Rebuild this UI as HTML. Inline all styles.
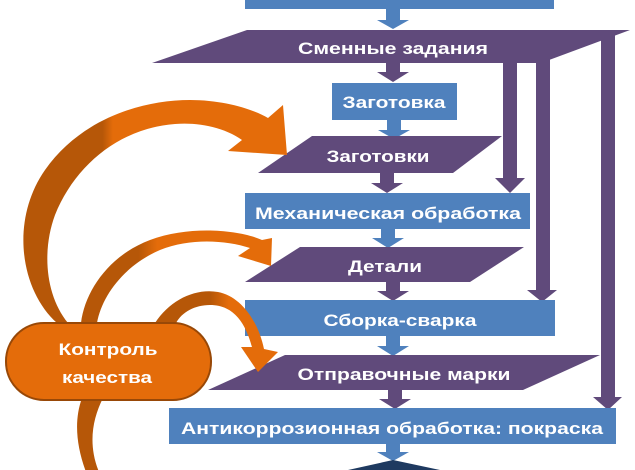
<!DOCTYPE html>
<html><head><meta charset="utf-8"><style>
html,body{margin:0;padding:0;background:#fff;width:635px;height:470px;overflow:hidden}
svg{display:block}
text{font-family:"Liberation Sans","DejaVu Sans",sans-serif;font-weight:bold;fill:#fff}
</style></head><body>
<svg width="635" height="470" viewBox="0 0 635 470" xmlns="http://www.w3.org/2000/svg">
<defs>
<linearGradient id="g1" x1="0" y1="0" x2="1" y2="0">
<stop offset="0" stop-color="#b65708"/><stop offset="0.3" stop-color="#b65708"/><stop offset="0.34" stop-color="#e46c0a"/><stop offset="1" stop-color="#e46c0a"/>
</linearGradient>
<linearGradient id="g2" x1="0" y1="0" x2="1" y2="0">
<stop offset="0" stop-color="#b65708"/><stop offset="0.3" stop-color="#b65708"/><stop offset="0.4" stop-color="#e46c0a"/><stop offset="1" stop-color="#e46c0a"/>
</linearGradient>
<linearGradient id="g3" x1="0" y1="0" x2="1" y2="0">
<stop offset="0" stop-color="#b65708"/><stop offset="0.45" stop-color="#b65708"/><stop offset="0.6" stop-color="#e46c0a"/><stop offset="1" stop-color="#e46c0a"/>
</linearGradient>
</defs>

<rect x="245" y="-2" width="309" height="11" fill="#4f81bd"/>
<g fill="#4f81bd">
<polygon points="386,9 400,9 400,20 409,20 393,29 377,20 386,20"/>
<polygon points="387,120 401,120 401,130 410,130 394,139 378,130 387,130"/>
<polygon points="381,229 395,229 395,238 404,238 388,248 372,238 381,238"/>
<polygon points="386,336 400,336 400,346 409,346 393,356 377,346 386,346"/>
<polygon points="386,444 400,444 400,452 409,452 393,461 377,452 386,452"/>
</g>
<g fill="#604a7b">
<polygon points="247,30 630,30 541,63 152,63"/>
<polygon points="312,136 502,136 453,173 258,173"/>
<polygon points="300,247 524,247 470,282 245,282"/>
<polygon points="285,355 600,355 523,390 208,390"/>
<polygon points="386,63 400,63 400,72 409,72 393,82 377,72 386,72"/>
<polygon points="380,173 394,173 394,183 403,183 387,193 371,183 380,183"/>
<polygon points="386,282 400,282 400,291 409,291 393,301 377,291 386,291"/>
<polygon points="388,390 402,390 402,399 411,399 395,409 379,399 388,399"/>
<polygon points="503,60 517,60 517,178 525,178 510,193 495,178 503,178"/>
<polygon points="536,55 550,55 550,290 557,290 542,302 527,290 536,290"/>
<polygon points="601,34 615,34 615,397 622,397 608,410 593,397 601,397"/>
</g>
<g fill="#4f81bd">
<rect x="332" y="83" width="125" height="37"/>
<rect x="245" y="193" width="285" height="36"/>
<rect x="245" y="300" width="310" height="36"/>
<rect x="169" y="408" width="447" height="36"/>
</g>
<polygon points="393,460 440,470 348,470" fill="#1f3a60"/>

<path d="M57,323 C20,290 10,220 45,170 C80,120 140,100 190,100 C225,100 255,110 268,118 L283,105 L287,155 L228,151 L242,140 C225,128 200,122 175,124 C120,128 75,165 55,215 C42,250 45,295 68,323 Z" fill="url(#g1)"/>
<path d="M81,323 C85,290 110,255 150,240 C190,225 240,230 262,240 L272,238 L271,266 L238,256 L250,248 C225,240 190,238 160,250 C125,265 102,295 97,323 Z" fill="url(#g2)"/>
<path d="M155,323 C170,300 195,288 218,292 C240,296 258,320 264,349 L278,352 L258,372 L241,347 L252,347 C246,325 235,305 210,305 C195,305 182,312 176,323 Z" fill="url(#g3)"/>
<path d="M82,398 L103,398 C92,420 88,445 99,472 L86,472 C76,445 74,420 82,398 Z" fill="#b65708"/>
<rect x="6" y="323" width="205" height="77" rx="38" ry="38" fill="#e46c0a" stroke="#984807" stroke-width="2"/>

<text x="393" y="54" font-size="17" text-anchor="middle" textLength="190" lengthAdjust="spacingAndGlyphs">Сменные задания</text>
<text x="394" y="108" font-size="17" text-anchor="middle" textLength="103" lengthAdjust="spacingAndGlyphs">Заготовка</text>
<text x="378" y="162" font-size="17" text-anchor="middle" textLength="103" lengthAdjust="spacingAndGlyphs">Заготовки</text>
<text x="388" y="219" font-size="17" text-anchor="middle" textLength="266" lengthAdjust="spacingAndGlyphs">Механическая обработка</text>
<text x="385" y="272" font-size="17" text-anchor="middle" textLength="74" lengthAdjust="spacingAndGlyphs">Детали</text>
<text x="400" y="326" font-size="17" text-anchor="middle" textLength="153" lengthAdjust="spacingAndGlyphs">Сборка-сварка</text>
<text x="404" y="380" font-size="17" text-anchor="middle" textLength="213" lengthAdjust="spacingAndGlyphs">Отправочные марки</text>
<text x="392" y="434" font-size="17" text-anchor="middle" textLength="422" lengthAdjust="spacingAndGlyphs">Антикоррозионная обработка: покраска</text>
<text x="108" y="355" font-size="17" text-anchor="middle" textLength="99" lengthAdjust="spacingAndGlyphs">Контроль</text>
<text x="107" y="383" font-size="17" text-anchor="middle" textLength="90" lengthAdjust="spacingAndGlyphs">качества</text>
</svg>
</body></html>
